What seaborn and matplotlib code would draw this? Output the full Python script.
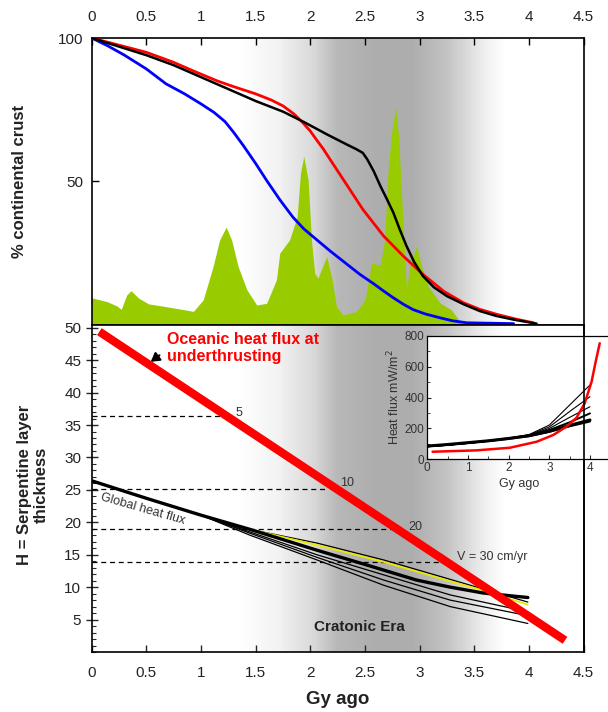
import numpy as np
import pandas as pd
import matplotlib
matplotlib.use('Agg')
import matplotlib.pyplot as plt
from matplotlib.colors import LinearSegmentedColormap
from matplotlib.lines import Line2D
import seaborn as sns

sns.set_style('white')
plt.rcParams['font.family'] = ['Liberation Sans', 'DejaVu Sans']

# --- top panel: % continental crust ---
blue_age = [0, 0.15, 0.3, 0.5, 0.68, 0.85, 1.0, 1.12, 1.22, 1.3, 1.39, 1.5, 1.6, 1.72, 1.84, 1.94,
            2.03, 2.18, 2.33, 2.45, 2.58, 2.67, 2.76, 2.85, 2.94, 3.05, 3.19, 3.3, 3.43, 3.86]
blue_pct = [100, 97.2, 94, 89.2, 84, 80.5, 77, 74, 70.8, 67, 62.3, 56.2, 50.3, 43.6, 37.5, 33.4,
            30.5, 25.7, 21.2, 17.6, 14.2, 11.7, 9.3, 7.1, 5.2, 3.7, 2.3, 1.3, 0.6, 0.3]

red_age = [0, 0.25, 0.5, 0.75, 0.93, 1.15, 1.3, 1.5, 1.64, 1.75, 1.85, 1.93, 2.0, 2.06, 2.12, 2.2,
           2.30, 2.48, 2.67, 2.85, 3.03, 3.22, 3.40, 3.55, 3.71, 3.88, 4.04]
red_pct = [100, 97.5, 95, 91.5, 88.5, 85, 83, 80.5, 78.4, 76.3, 73.5, 70.5, 67.5, 64.3, 61.2, 56.5,
           50.7, 40.2, 30.9, 23.9, 17.5, 11.6, 7.6, 5.3, 3.5, 1.9, 0.6]

black_age = [0, 0.25, 0.5, 0.75, 0.93, 1.2, 1.5, 1.75, 1.95, 2.15, 2.33, 2.42, 2.48, 2.52, 2.58,
             2.64, 2.70, 2.76, 2.82, 2.88, 2.95, 3.03, 3.13, 3.25, 3.4, 3.55, 3.7, 3.86, 4.07]
black_pct = [100, 97, 94, 90.5, 87.5, 83, 78, 74.3, 70.5, 66.4, 62.9, 61.2, 59.9, 57.7, 53.5,
             48.4, 43.8, 39, 33, 27.4, 21.8, 16.9, 13, 9.9, 7.1, 4.7, 3, 1.7, 0.3]

# green age distribution
green_age = [0.0, 0.14, 0.23, 0.27, 0.32, 0.36, 0.43, 0.52, 0.62, 0.81, 0.93, 1.02, 1.11, 1.17,
             1.23, 1.28, 1.34, 1.42, 1.51, 1.60, 1.69, 1.72, 1.81, 1.88, 1.91, 1.94, 1.98, 2.01,
             2.04, 2.07, 2.15, 2.20, 2.24, 2.30, 2.42, 2.50, 2.56, 2.64, 2.68, 2.71, 2.74, 2.78,
             2.81, 2.84, 2.88, 2.91, 2.97, 3.02, 3.08, 3.19, 3.29, 3.37, 3.45]
green_pct = [9.3, 8.0, 6.5, 5.3, 10.3, 11.8, 9.2, 7.2, 6.6, 5.4, 4.6, 8.6, 20.2, 29.5,
             34.0, 29.5, 20.2, 12.1, 6.8, 7.4, 15.6, 24.9, 29.5, 37.7, 52.9, 58.7, 50.5, 29.5,
             17.9, 16.2, 23.7, 15.6, 6.2, 3.3, 4.5, 8.6, 21.4, 20.8, 29.5, 52.9, 66.0, 76.0,
             64.5, 41.2, 12.1, 20.2, 27.4, 20.2, 13.2, 7.4, 5.1, 1.0, 0.0]

# --- bottom panel: serpentine layer thickness ---
ocean_age = [0.07, 4.33]
ocean_h = [49.4, 1.8]

global_age = [0, 0.5, 1.0, 1.45, 2.06, 2.52, 2.97, 3.28, 3.58, 3.99]
global_h = [26.4, 23.7, 21.1, 18.9, 15.7, 13.4, 11.1, 10.0, 9.1, 8.4]

yellow_age = [0, 0.5, 1.0, 1.45, 2.06, 2.67, 3.28, 3.58, 3.99]
yellow_h = [26.4, 23.7, 21.1, 18.9, 16.5, 13.9, 10.9, 9.5, 7.3]

thin_age = [0, 0.5, 1.0, 1.45, 2.06, 2.67, 3.28, 3.99]
thin_h = [
    [26.4, 23.7, 21.1, 18.9, 16.8, 14.2, 11.2, 7.7],
    [26.4, 23.7, 21.1, 18.5, 15.0, 11.9, 8.8, 6.2],
    [26.4, 23.7, 21.1, 18.3, 14.6, 11.1, 8.0, 5.6],
    [26.4, 23.7, 21.1, 18.0, 14.2, 10.3, 7.0, 4.4],
]

speed_levels = [36.4, 25.2, 18.9, 13.9]
speed_ends = [1.22, 2.16, 2.74, 3.22]
speed_labels = ['5', '10', '20', 'V = 30 cm/yr']
speed_label_x = [1.35, 2.34, 2.96, 3.34]
speed_label_y = [36.9, 26.0, 19.3, 14.6]

# --- inset: heat flux ---
inset_red_age = [0.13, 1.21, 2.03, 2.69, 3.10, 3.42, 3.67, 3.87, 4.04, 4.14, 4.24]
inset_red_flux = [49, 58, 75, 114, 158, 212, 270, 363, 504, 633, 753]

inset_age = [0, 0.5, 1, 1.5, 2, 2.5, 3, 3.5, 4]
inset_flux = [
    [82, 92, 104, 118, 135, 160, 222, 352, 482],
    [82, 92, 104, 118, 135, 158, 210, 310, 406],
    [82, 92, 104, 118, 134, 155, 200, 272, 341],
    [84, 94, 106, 120, 136, 156, 190, 240, 298],
    [86, 96, 108, 120, 135, 153, 182, 220, 255],
    [84, 94, 106, 118, 133, 150, 178, 214, 245],
]
inset_lw = [0.8, 0.8, 0.8, 1.4, 2.2, 1.4]

# gray "cratonic era" background band
band_stops = [0.0, 0.30, 0.38, 0.45, 0.50, 0.58, 0.65, 0.72, 0.76, 0.80, 0.84, 1.0]
band_gray = [1.0, 1.0, 0.95, 0.85, 0.72, 0.68, 0.68, 0.76, 0.85, 0.94, 1.0, 1.0]

TXT = '#222222'

fig = plt.figure(figsize=(6.08, 7.12), dpi=100)
ax_top = fig.add_axes([91.7 / 608, 1 - 324.5 / 712, 491.9 / 608, 286.5 / 712])
ax_bot = fig.add_axes([91.7 / 608, 1 - 652 / 712, 491.9 / 608, 327.5 / 712])

cmap = LinearSegmentedColormap.from_list(
    'band', [(s, (g, g, g)) for s, g in zip(band_stops, band_gray)])
grad = np.linspace(0, 1, 500).reshape(1, -1)
ax_top.imshow(grad, cmap=cmap, extent=[0, 4.5, 0, 100], aspect='auto', zorder=0, vmin=0, vmax=1)
ax_bot.imshow(grad, cmap=cmap, extent=[0, 4.5, 0, 50.5], aspect='auto', zorder=0, vmin=0, vmax=1)

# top panel
ax_top.fill_between(green_age, 0, green_pct, color='#99cc00', lw=0, zorder=1)
sns.lineplot(x=blue_age, y=blue_pct, ax=ax_top, color='#0000ff', lw=2, sort=False, zorder=3)
sns.lineplot(x=red_age, y=red_pct, ax=ax_top, color='#ff0000', lw=2, sort=False, zorder=3)
sns.lineplot(x=black_age, y=black_pct, ax=ax_top, color='black', lw=1.8, sort=False, zorder=3)

ax_top.set_xlim(0, 4.5)
ax_top.set_ylim(0, 100)
ax_top.xaxis.tick_top()
ax_top.set_xticks(np.arange(0, 4.51, 0.5))
ax_top.set_xticklabels(['0', '0.5', '1', '1.5', '2', '2.5', '3', '3.5', '4', '4.5'])
ax_top.set_yticks([50, 100])
ax_top.tick_params(direction='in', length=5, width=1, labelsize=11, colors='black', labelcolor=TXT,
                   top=True, left=True, bottom=False, pad=6)
ax_top.tick_params(axis='x', pad=10)

# bottom panel
for h in thin_h:
    sns.lineplot(x=thin_age, y=h, ax=ax_bot, color='black', lw=0.9, sort=False, zorder=2)
sns.lineplot(x=yellow_age, y=yellow_h, ax=ax_bot, color='#e8e800', lw=1.3, sort=False, zorder=3)
sns.lineplot(x=global_age, y=global_h, ax=ax_bot, color='black', lw=2.4, sort=False, zorder=4)
ax_bot.hlines(speed_levels, 0, speed_ends, colors='black', linestyles=(0, (4, 3)), lw=0.9, zorder=2)
sns.lineplot(x=ocean_age, y=ocean_h, ax=ax_bot, color='#ff0000', lw=6, sort=False, zorder=5,
             solid_capstyle='butt')

for lab, lx, ly in zip(speed_labels, speed_label_x, speed_label_y):
    ax_bot.text(lx, ly, lab, ha='left' if len(lab) > 2 else 'center', va='center',
                fontsize=9, color='#333333', zorder=6)

ax_bot.text(0.69, 49.4, 'Oceanic heat flux at\nunderthrusting', color='#ff0000', fontsize=11.5,
            fontweight='bold', ha='left', va='top', linespacing=1.2, zorder=6)
ax_bot.annotate('', xy=(0.52, 44.5), xytext=(0.64, 46.0),
                arrowprops=dict(arrowstyle='-|>,head_length=0.5,head_width=0.3', color='black', lw=1.5),
                zorder=6)
ax_bot.text(0.08, 23.9, 'Global heat flux', rotation=-16, rotation_mode='anchor', ha='left',
            va='center', fontsize=9, color='#333333', zorder=6)
ax_bot.text(2.45, 3.9, 'Cratonic Era', ha='center', va='center', fontsize=11, fontweight='bold',
            color=TXT, zorder=6)

ax_bot.set_xlim(0, 4.5)
ax_bot.set_ylim(0, 50.5)
ax_bot.set_xticks(np.arange(0, 4.51, 0.5))
ax_bot.set_xticklabels(['0', '0.5', '1', '1.5', '2', '2.5', '3', '3.5', '4', '4.5'])
ax_bot.set_yticks(np.arange(5, 51, 5))
ax_bot.set_yticks(np.arange(0, 51, 1), minor=True)
ax_bot.tick_params(axis='x', direction='in', length=5, width=1, labelsize=11, labelcolor=TXT,
                   bottom=True, pad=10)
ax_bot.tick_params(axis='y', which='major', direction='inout', length=8, width=1, labelsize=11,
                   labelcolor=TXT, left=True)
ax_bot.tick_params(axis='y', which='minor', direction='in', length=3, width=0.8, left=True)
ax_bot.set_xlabel('Gy ago', fontsize=13.5, fontweight='bold', color=TXT, labelpad=8)

for ax in (ax_top, ax_bot):
    for sp in ax.spines.values():
        sp.set_color('black')
        sp.set_linewidth(1.2)
    ax.set_ylabel('')

fig.text(20 / 608, 1 - 181 / 712, '% continental crust', rotation=90, ha='center', va='center',
         fontsize=12, fontweight='bold', color=TXT)
fig.text(33 / 608, 1 - 485 / 712, 'H = Serpentine layer\nthickness', rotation=90, ha='center',
         va='center', fontsize=12, fontweight='bold', color=TXT, linespacing=1.15)

# inset
ax_in = fig.add_axes([427.3 / 608, 1 - 459.3 / 712, 183 / 608, 123.3 / 712])
ax_in.set_facecolor('white')
for fl, lw in zip(inset_flux, inset_lw):
    sns.lineplot(x=inset_age, y=fl, ax=ax_in, color='black', lw=lw, sort=False)
sns.lineplot(x=inset_red_age, y=inset_red_flux, ax=ax_in, color='#ff0000', lw=1.8, sort=False)
ax_in.set_xlim(0, 4.5)
ax_in.set_ylim(0, 800)
ax_in.set_xticks([0, 1, 2, 3, 4])
ax_in.set_xticks(np.arange(0, 4.51, 0.5), minor=True)
ax_in.set_yticks([0, 200, 400, 600, 800])
ax_in.set_yticks(np.arange(0, 801, 100), minor=True)
ax_in.tick_params(which='major', direction='in', length=3, width=0.8, labelsize=8.5, labelcolor='#333333',
                  bottom=True, left=True, pad=2)
ax_in.tick_params(which='minor', direction='in', length=2, width=0.6, bottom=True, left=True)
ax_in.set_xlabel('Gy ago', fontsize=9, color='#333333', labelpad=3)
ax_in.set_ylabel('Heat flux mW/m$^2$', fontsize=9, color='#333333', labelpad=2)
for sp in ax_in.spines.values():
    sp.set_color('black')
    sp.set_linewidth(0.9)

# right frame of the lower panel shows through the inset
fig.add_artist(Line2D([583.6 / 608, 583.6 / 608], [1 - 652 / 712, 1 - 324.5 / 712],
                      color='black', lw=1.2, zorder=10))

fig.savefig('out.png', dpi=100)
